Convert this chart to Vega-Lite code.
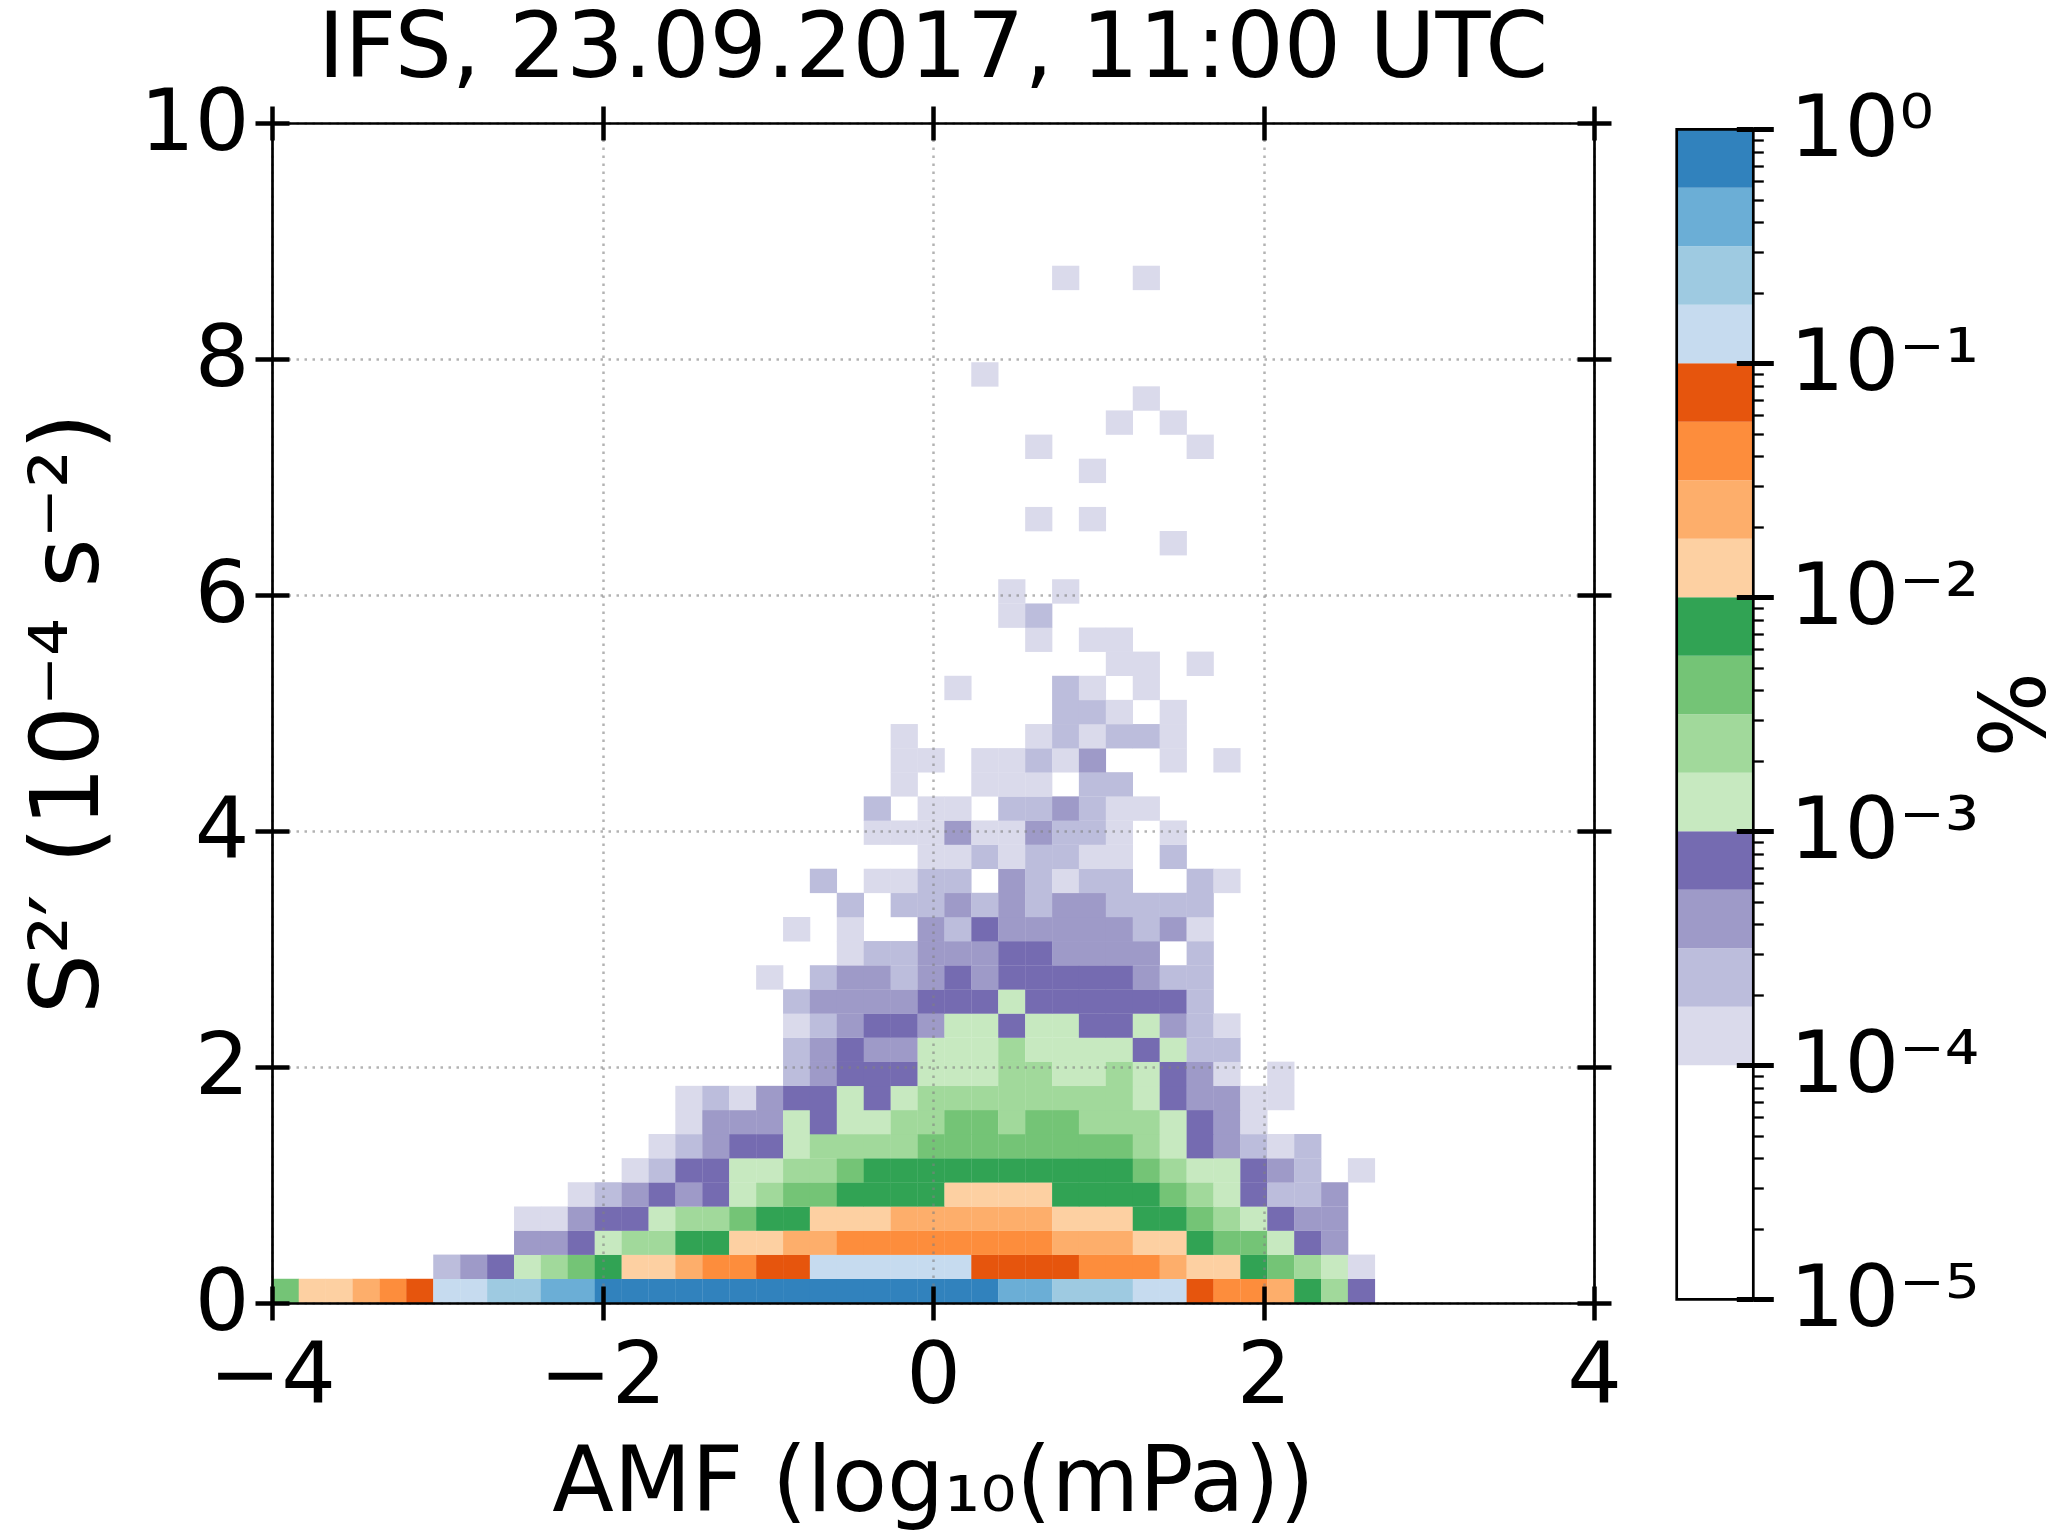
{
"$schema": "https://vega.github.io/schema/vega-lite/v6.json",
"width": 1322, "height": 1180,
"autosize": {"type": "none"},
"padding": {"left": 272, "top": 123, "right": 473, "bottom": 229},
"background": "white",
"title": {"text": "IFS, 23.09.2017, 11:00 UTC", "fontSize": 90, "font": "DejaVu Sans", "fontWeight": "normal", "color": "black", "offset": -16, "anchor": "middle"},
"config": {"view": {"stroke": null}, "font": "DejaVu Sans",
  "axis": {"labelFont": "DejaVu Sans", "titleFont": "DejaVu Sans", "labelColor": "black", "titleColor": "black", "tickColor": "black", "domainColor": "black", "titleFontWeight": "normal", "labelFontSize": 86, "titleFontSize": 90, "tickWidth": 4.5, "domainWidth": 2.7, "grid": false, "labelFlush": false, "labelOverlap": false, "labelLimit": 0, "tickCap": "butt"}},
"resolve": {"scale": {"x": "independent", "y": "independent"}, "axis": {"x": "independent", "y": "independent"}},
"datasets": {
"cells": [
{"x":-3.919,"y":0.102,"v":0.0042},{"x":-3.756,"y":0.102,"v":0.013},{"x":-3.593,"y":0.102,"v":0.013},{"x":-3.43,"y":0.102,"v":0.024},{"x":-3.267,"y":0.102,"v":0.042},{"x":-3.105,"y":0.102,"v":0.075},{"x":-2.942,"y":0.102,"v":0.13},{"x":-2.779,"y":0.102,"v":0.13},{"x":-2.616,"y":0.102,"v":0.24},{"x":-2.453,"y":0.102,"v":0.24},{"x":-2.291,"y":0.102,"v":0.42},{"x":-2.128,"y":0.102,"v":0.42},
{"x":-1.965,"y":0.102,"v":0.75},{"x":-1.802,"y":0.102,"v":0.75},{"x":-1.639,"y":0.102,"v":0.75},{"x":-1.477,"y":0.102,"v":0.75},{"x":-1.314,"y":0.102,"v":0.75},{"x":-1.151,"y":0.102,"v":0.75},{"x":-0.988,"y":0.102,"v":0.75},{"x":-0.825,"y":0.102,"v":0.75},{"x":-0.663,"y":0.102,"v":0.75},{"x":-0.5,"y":0.102,"v":0.75},{"x":-0.337,"y":0.102,"v":0.75},{"x":-0.174,"y":0.102,"v":0.75},{"x":-0.011,"y":0.102,"v":0.75},{"x":0.151,"y":0.102,"v":0.75},{"x":0.314,"y":0.102,"v":0.75},
{"x":0.477,"y":0.102,"v":0.42},{"x":0.64,"y":0.102,"v":0.42},{"x":0.803,"y":0.102,"v":0.24},{"x":0.965,"y":0.102,"v":0.24},{"x":1.128,"y":0.102,"v":0.24},{"x":1.291,"y":0.102,"v":0.13},{"x":1.454,"y":0.102,"v":0.13},{"x":1.617,"y":0.102,"v":0.075},{"x":1.779,"y":0.102,"v":0.042},{"x":1.942,"y":0.102,"v":0.042},{"x":2.105,"y":0.102,"v":0.024},{"x":2.268,"y":0.102,"v":0.0075},{"x":2.431,"y":0.102,"v":0.0024},{"x":2.593,"y":0.102,"v":0.00075},

{"x":-2.942,"y":0.307,"v":0.00024},{"x":-2.779,"y":0.307,"v":0.00042},{"x":-2.616,"y":0.307,"v":0.00075},{"x":-2.453,"y":0.307,"v":0.0013},{"x":-2.291,"y":0.307,"v":0.0024},{"x":-2.128,"y":0.307,"v":0.0042},{"x":-1.965,"y":0.307,"v":0.0075},{"x":-1.802,"y":0.307,"v":0.013},{"x":-1.639,"y":0.307,"v":0.013},{"x":-1.477,"y":0.307,"v":0.024},{"x":-1.314,"y":0.307,"v":0.042},{"x":-1.151,"y":0.307,"v":0.042},{"x":-0.988,"y":0.307,"v":0.075},{"x":-0.825,"y":0.307,"v":0.075},
{"x":-0.663,"y":0.307,"v":0.13},{"x":-0.5,"y":0.307,"v":0.13},{"x":-0.337,"y":0.307,"v":0.13},{"x":-0.174,"y":0.307,"v":0.13},{"x":-0.011,"y":0.307,"v":0.13},{"x":0.151,"y":0.307,"v":0.13},{"x":0.314,"y":0.307,"v":0.075},{"x":0.477,"y":0.307,"v":0.075},{"x":0.64,"y":0.307,"v":0.075},{"x":0.803,"y":0.307,"v":0.075},{"x":0.965,"y":0.307,"v":0.042},{"x":1.128,"y":0.307,"v":0.042},{"x":1.291,"y":0.307,"v":0.042},{"x":1.454,"y":0.307,"v":0.024},{"x":1.617,"y":0.307,"v":0.013},{"x":1.779,"y":0.307,"v":0.013},{"x":1.942,"y":0.307,"v":0.0075},{"x":2.105,"y":0.307,"v":0.0042},{"x":2.268,"y":0.307,"v":0.0024},{"x":2.431,"y":0.307,"v":0.0013},{"x":2.593,"y":0.307,"v":0.00013},

{"x":-2.453,"y":0.511,"v":0.00042},{"x":-2.291,"y":0.511,"v":0.00042},{"x":-2.128,"y":0.511,"v":0.00075},{"x":-1.965,"y":0.511,"v":0.0013},{"x":-1.802,"y":0.511,"v":0.0024},{"x":-1.639,"y":0.511,"v":0.0024},{"x":-1.477,"y":0.511,"v":0.0075},{"x":-1.314,"y":0.511,"v":0.0075},{"x":-1.151,"y":0.511,"v":0.013},{"x":-0.988,"y":0.511,"v":0.013},{"x":-0.825,"y":0.511,"v":0.024},{"x":-0.663,"y":0.511,"v":0.024},
{"x":-0.5,"y":0.511,"v":0.042},{"x":-0.337,"y":0.511,"v":0.042},{"x":-0.174,"y":0.511,"v":0.042},{"x":-0.011,"y":0.511,"v":0.042},{"x":0.151,"y":0.511,"v":0.042},{"x":0.314,"y":0.511,"v":0.042},{"x":0.477,"y":0.511,"v":0.042},{"x":0.64,"y":0.511,"v":0.042},{"x":0.803,"y":0.511,"v":0.024},{"x":0.965,"y":0.511,"v":0.024},{"x":1.128,"y":0.511,"v":0.024},{"x":1.291,"y":0.511,"v":0.013},{"x":1.454,"y":0.511,"v":0.013},{"x":1.617,"y":0.511,"v":0.0075},{"x":1.779,"y":0.511,"v":0.0042},{"x":1.942,"y":0.511,"v":0.0042},{"x":2.105,"y":0.511,"v":0.0013},{"x":2.268,"y":0.511,"v":0.00075},{"x":2.431,"y":0.511,"v":0.00042},

{"x":-2.453,"y":0.715,"v":0.00013},{"x":-2.291,"y":0.715,"v":0.00013},{"x":-2.128,"y":0.715,"v":0.00042},{"x":-1.965,"y":0.715,"v":0.00075},{"x":-1.802,"y":0.715,"v":0.00075},{"x":-1.639,"y":0.715,"v":0.0013},{"x":-1.477,"y":0.715,"v":0.0024},{"x":-1.314,"y":0.715,"v":0.0024},{"x":-1.151,"y":0.715,"v":0.0042},{"x":-0.988,"y":0.715,"v":0.0075},{"x":-0.825,"y":0.715,"v":0.0075},{"x":-0.663,"y":0.715,"v":0.013},{"x":-0.5,"y":0.715,"v":0.013},{"x":-0.337,"y":0.715,"v":0.013},
{"x":-0.174,"y":0.715,"v":0.024},{"x":-0.011,"y":0.715,"v":0.024},{"x":0.151,"y":0.715,"v":0.024},{"x":0.314,"y":0.715,"v":0.024},{"x":0.477,"y":0.715,"v":0.024},{"x":0.64,"y":0.715,"v":0.024},{"x":0.803,"y":0.715,"v":0.013},{"x":0.965,"y":0.715,"v":0.013},{"x":1.128,"y":0.715,"v":0.013},{"x":1.291,"y":0.715,"v":0.0075},{"x":1.454,"y":0.715,"v":0.0075},{"x":1.617,"y":0.715,"v":0.0042},{"x":1.779,"y":0.715,"v":0.0024},{"x":1.942,"y":0.715,"v":0.0013},{"x":2.105,"y":0.715,"v":0.00075},{"x":2.268,"y":0.715,"v":0.00042},{"x":2.431,"y":0.715,"v":0.00042},

{"x":-2.128,"y":0.92,"v":0.00013},{"x":-1.965,"y":0.92,"v":0.00024},{"x":-1.802,"y":0.92,"v":0.00042},{"x":-1.639,"y":0.92,"v":0.00075},{"x":-1.477,"y":0.92,"v":0.00042},{"x":-1.314,"y":0.92,"v":0.00075},{"x":-1.151,"y":0.92,"v":0.0013},{"x":-0.988,"y":0.92,"v":0.0024},{"x":-0.825,"y":0.92,"v":0.0042},{"x":-0.663,"y":0.92,"v":0.0042},{"x":-0.5,"y":0.92,"v":0.0075},{"x":-0.337,"y":0.92,"v":0.0075},{"x":-0.174,"y":0.92,"v":0.0075},{"x":-0.011,"y":0.92,"v":0.0075},
{"x":0.151,"y":0.92,"v":0.013},{"x":0.314,"y":0.92,"v":0.013},{"x":0.477,"y":0.92,"v":0.013},{"x":0.64,"y":0.92,"v":0.013},{"x":0.803,"y":0.92,"v":0.0075},{"x":0.965,"y":0.92,"v":0.0075},{"x":1.128,"y":0.92,"v":0.0075},{"x":1.291,"y":0.92,"v":0.0075},{"x":1.454,"y":0.92,"v":0.0042},{"x":1.617,"y":0.92,"v":0.0024},{"x":1.779,"y":0.92,"v":0.0013},{"x":1.942,"y":0.92,"v":0.00075},{"x":2.105,"y":0.92,"v":0.00024},{"x":2.268,"y":0.92,"v":0.00024},{"x":2.431,"y":0.92,"v":0.00042},

{"x":-1.802,"y":1.124,"v":0.00013},{"x":-1.639,"y":1.124,"v":0.00024},{"x":-1.477,"y":1.124,"v":0.00075},{"x":-1.314,"y":1.124,"v":0.00075},{"x":-1.151,"y":1.124,"v":0.0013},{"x":-0.988,"y":1.124,"v":0.0013},{"x":-0.825,"y":1.124,"v":0.0024},{"x":-0.663,"y":1.124,"v":0.0024},{"x":-0.5,"y":1.124,"v":0.0042},
{"x":-0.337,"y":1.124,"v":0.0075},{"x":-0.174,"y":1.124,"v":0.0075},{"x":-0.011,"y":1.124,"v":0.0075},{"x":0.151,"y":1.124,"v":0.0075},{"x":0.314,"y":1.124,"v":0.0075},{"x":0.477,"y":1.124,"v":0.0075},{"x":0.64,"y":1.124,"v":0.0075},{"x":0.803,"y":1.124,"v":0.0075},{"x":0.965,"y":1.124,"v":0.0075},{"x":1.128,"y":1.124,"v":0.0075},
{"x":1.291,"y":1.124,"v":0.0042},{"x":1.454,"y":1.124,"v":0.0024},{"x":1.617,"y":1.124,"v":0.0013},{"x":1.779,"y":1.124,"v":0.0013},{"x":1.942,"y":1.124,"v":0.00075},{"x":2.105,"y":1.124,"v":0.00042},{"x":2.268,"y":1.124,"v":0.00024},{"x":2.593,"y":1.124,"v":0.00013},

{"x":-1.639,"y":1.329,"v":0.00013},{"x":-1.477,"y":1.329,"v":0.00024},{"x":-1.314,"y":1.329,"v":0.00042},{"x":-1.151,"y":1.329,"v":0.00075},{"x":-0.988,"y":1.329,"v":0.00075},{"x":-0.825,"y":1.329,"v":0.0013},{"x":-0.663,"y":1.329,"v":0.0024},{"x":-0.5,"y":1.329,"v":0.0024},{"x":-0.337,"y":1.329,"v":0.0024},{"x":-0.174,"y":1.329,"v":0.0024},
{"x":-0.011,"y":1.329,"v":0.0042},{"x":0.151,"y":1.329,"v":0.0042},{"x":0.314,"y":1.329,"v":0.0042},{"x":0.477,"y":1.329,"v":0.0042},{"x":0.64,"y":1.329,"v":0.0042},{"x":0.803,"y":1.329,"v":0.0042},{"x":0.965,"y":1.329,"v":0.0042},{"x":1.128,"y":1.329,"v":0.0042},
{"x":1.291,"y":1.329,"v":0.0024},{"x":1.454,"y":1.329,"v":0.0013},{"x":1.617,"y":1.329,"v":0.00075},{"x":1.779,"y":1.329,"v":0.00042},{"x":1.942,"y":1.329,"v":0.00024},{"x":2.105,"y":1.329,"v":0.00013},{"x":2.268,"y":1.329,"v":0.00024},

{"x":-1.477,"y":1.533,"v":0.00013},{"x":-1.314,"y":1.533,"v":0.00042},{"x":-1.151,"y":1.533,"v":0.00042},{"x":-0.988,"y":1.533,"v":0.00042},{"x":-0.825,"y":1.533,"v":0.0013},{"x":-0.663,"y":1.533,"v":0.00075},{"x":-0.5,"y":1.533,"v":0.0013},{"x":-0.337,"y":1.533,"v":0.0013},{"x":-0.174,"y":1.533,"v":0.0024},{"x":-0.011,"y":1.533,"v":0.0024},{"x":0.151,"y":1.533,"v":0.0042},{"x":0.314,"y":1.533,"v":0.0042},{"x":0.477,"y":1.533,"v":0.0024},{"x":0.64,"y":1.533,"v":0.0042},{"x":0.803,"y":1.533,"v":0.0042},{"x":0.965,"y":1.533,"v":0.0024},{"x":1.128,"y":1.533,"v":0.0024},{"x":1.291,"y":1.533,"v":0.0024},{"x":1.454,"y":1.533,"v":0.0013},{"x":1.617,"y":1.533,"v":0.00075},{"x":1.779,"y":1.533,"v":0.00042},{"x":1.942,"y":1.533,"v":0.00013},

{"x":-1.477,"y":1.737,"v":0.00013},{"x":-1.314,"y":1.737,"v":0.00024},{"x":-1.151,"y":1.737,"v":0.00013},{"x":-0.988,"y":1.737,"v":0.00042},{"x":-0.825,"y":1.737,"v":0.00075},{"x":-0.663,"y":1.737,"v":0.00075},{"x":-0.5,"y":1.737,"v":0.0013},{"x":-0.337,"y":1.737,"v":0.00075},{"x":-0.174,"y":1.737,"v":0.0013},
{"x":-0.011,"y":1.737,"v":0.0024},{"x":0.151,"y":1.737,"v":0.0024},{"x":0.314,"y":1.737,"v":0.0024},{"x":0.477,"y":1.737,"v":0.0024},{"x":0.64,"y":1.737,"v":0.0024},{"x":0.803,"y":1.737,"v":0.0024},{"x":0.965,"y":1.737,"v":0.0024},{"x":1.128,"y":1.737,"v":0.0024},
{"x":1.291,"y":1.737,"v":0.0013},{"x":1.454,"y":1.737,"v":0.00075},{"x":1.617,"y":1.737,"v":0.00042},{"x":1.779,"y":1.737,"v":0.00042},{"x":1.942,"y":1.737,"v":0.00013},{"x":2.105,"y":1.737,"v":0.00013},

{"x":-0.825,"y":1.942,"v":0.00024},{"x":-0.663,"y":1.942,"v":0.00042},{"x":-0.5,"y":1.942,"v":0.00075},{"x":-0.337,"y":1.942,"v":0.00075},{"x":-0.174,"y":1.942,"v":0.00075},{"x":-0.011,"y":1.942,"v":0.0013},{"x":0.151,"y":1.942,"v":0.0013},{"x":0.314,"y":1.942,"v":0.0013},{"x":0.477,"y":1.942,"v":0.0024},{"x":0.64,"y":1.942,"v":0.0024},{"x":0.803,"y":1.942,"v":0.0013},{"x":0.965,"y":1.942,"v":0.0013},{"x":1.128,"y":1.942,"v":0.0024},{"x":1.291,"y":1.942,"v":0.0013},{"x":1.454,"y":1.942,"v":0.00075},{"x":1.617,"y":1.942,"v":0.00042},{"x":1.779,"y":1.942,"v":0.00013},{"x":2.105,"y":1.942,"v":0.00013},

{"x":-0.825,"y":2.146,"v":0.00024},{"x":-0.663,"y":2.146,"v":0.00042},{"x":-0.5,"y":2.146,"v":0.00075},{"x":-0.337,"y":2.146,"v":0.00042},{"x":-0.174,"y":2.146,"v":0.00042},{"x":-0.011,"y":2.146,"v":0.0013},{"x":0.151,"y":2.146,"v":0.0013},{"x":0.314,"y":2.146,"v":0.0013},{"x":0.477,"y":2.146,"v":0.0024},{"x":0.64,"y":2.146,"v":0.0013},{"x":0.803,"y":2.146,"v":0.0013},{"x":0.965,"y":2.146,"v":0.0013},{"x":1.128,"y":2.146,"v":0.0013},{"x":1.291,"y":2.146,"v":0.00075},{"x":1.454,"y":2.146,"v":0.0013},{"x":1.617,"y":2.146,"v":0.00024},{"x":1.779,"y":2.146,"v":0.00024},

{"x":-0.825,"y":2.351,"v":0.00013},{"x":-0.663,"y":2.351,"v":0.00024},{"x":-0.5,"y":2.351,"v":0.00042},{"x":-0.337,"y":2.351,"v":0.00075},{"x":-0.174,"y":2.351,"v":0.00075},{"x":-0.011,"y":2.351,"v":0.00042},{"x":0.151,"y":2.351,"v":0.0013},{"x":0.314,"y":2.351,"v":0.0013},{"x":0.477,"y":2.351,"v":0.00075},{"x":0.64,"y":2.351,"v":0.0013},{"x":0.803,"y":2.351,"v":0.0013},{"x":0.965,"y":2.351,"v":0.00075},{"x":1.128,"y":2.351,"v":0.00075},{"x":1.291,"y":2.351,"v":0.0013},{"x":1.454,"y":2.351,"v":0.00042},{"x":1.617,"y":2.351,"v":0.00024},{"x":1.779,"y":2.351,"v":0.00013},

{"x":-0.825,"y":2.555,"v":0.00024},{"x":-0.663,"y":2.555,"v":0.00042},{"x":-0.5,"y":2.555,"v":0.00042},{"x":-0.337,"y":2.555,"v":0.00042},{"x":-0.174,"y":2.555,"v":0.00042},{"x":-0.011,"y":2.555,"v":0.00075},{"x":0.151,"y":2.555,"v":0.00075},{"x":0.314,"y":2.555,"v":0.00075},{"x":0.477,"y":2.555,"v":0.0013},{"x":0.64,"y":2.555,"v":0.00075},{"x":0.803,"y":2.555,"v":0.00075},{"x":0.965,"y":2.555,"v":0.00075},{"x":1.128,"y":2.555,"v":0.00075},{"x":1.291,"y":2.555,"v":0.00075},{"x":1.454,"y":2.555,"v":0.00075},{"x":1.617,"y":2.555,"v":0.00024},

{"x":-0.988,"y":2.759,"v":0.00013},{"x":-0.663,"y":2.759,"v":0.00024},{"x":-0.5,"y":2.759,"v":0.00042},{"x":-0.337,"y":2.759,"v":0.00042},{"x":-0.174,"y":2.759,"v":0.00024},{"x":-0.011,"y":2.759,"v":0.00042},{"x":0.151,"y":2.759,"v":0.00075},{"x":0.314,"y":2.759,"v":0.00042},{"x":0.477,"y":2.759,"v":0.00075},{"x":0.64,"y":2.759,"v":0.00075},{"x":0.803,"y":2.759,"v":0.00075},{"x":0.965,"y":2.759,"v":0.00075},{"x":1.128,"y":2.759,"v":0.00075},{"x":1.291,"y":2.759,"v":0.00042},{"x":1.454,"y":2.759,"v":0.00024},{"x":1.617,"y":2.759,"v":0.00024},

{"x":-0.5,"y":2.964,"v":0.00013},{"x":-0.337,"y":2.964,"v":0.00024},{"x":-0.174,"y":2.964,"v":0.00024},{"x":-0.011,"y":2.964,"v":0.00042},{"x":0.151,"y":2.964,"v":0.00042},{"x":0.314,"y":2.964,"v":0.00042},{"x":0.477,"y":2.964,"v":0.00075},{"x":0.64,"y":2.964,"v":0.00075},{"x":0.803,"y":2.964,"v":0.00042},{"x":0.965,"y":2.964,"v":0.00042},{"x":1.128,"y":2.964,"v":0.00042},{"x":1.291,"y":2.964,"v":0.00042},{"x":1.617,"y":2.964,"v":0.00024},

{"x":-0.825,"y":3.168,"v":0.00013},{"x":-0.5,"y":3.168,"v":0.00013},{"x":-0.011,"y":3.168,"v":0.00042},{"x":0.151,"y":3.168,"v":0.00024},{"x":0.314,"y":3.168,"v":0.00075},{"x":0.477,"y":3.168,"v":0.00042},{"x":0.64,"y":3.168,"v":0.00042},{"x":0.803,"y":3.168,"v":0.00042},{"x":0.965,"y":3.168,"v":0.00042},{"x":1.128,"y":3.168,"v":0.00042},{"x":1.291,"y":3.168,"v":0.00024},{"x":1.454,"y":3.168,"v":0.00042},{"x":1.617,"y":3.168,"v":0.00013},

{"x":-0.5,"y":3.373,"v":0.00024},{"x":-0.174,"y":3.373,"v":0.00024},{"x":-0.011,"y":3.373,"v":0.00024},{"x":0.151,"y":3.373,"v":0.00042},{"x":0.314,"y":3.373,"v":0.00024},{"x":0.477,"y":3.373,"v":0.00042},{"x":0.64,"y":3.373,"v":0.00024},{"x":0.803,"y":3.373,"v":0.00042},{"x":0.965,"y":3.373,"v":0.00042},{"x":1.128,"y":3.373,"v":0.00024},{"x":1.291,"y":3.373,"v":0.00024},{"x":1.454,"y":3.373,"v":0.00024},{"x":1.617,"y":3.373,"v":0.00024},

{"x":-0.663,"y":3.577,"v":0.00024},{"x":-0.337,"y":3.577,"v":0.00013},{"x":-0.174,"y":3.577,"v":0.00013},{"x":-0.011,"y":3.577,"v":0.00024},{"x":0.151,"y":3.577,"v":0.00024},{"x":0.477,"y":3.577,"v":0.00042},{"x":0.64,"y":3.577,"v":0.00024},{"x":0.803,"y":3.577,"v":0.00013},{"x":0.965,"y":3.577,"v":0.00024},{"x":1.128,"y":3.577,"v":0.00024},{"x":1.617,"y":3.577,"v":0.00024},{"x":1.779,"y":3.577,"v":0.00013},

{"x":-0.011,"y":3.781,"v":0.00013},{"x":0.151,"y":3.781,"v":0.00013},{"x":0.314,"y":3.781,"v":0.00024},{"x":0.477,"y":3.781,"v":0.00013},{"x":0.64,"y":3.781,"v":0.00024},{"x":0.803,"y":3.781,"v":0.00024},{"x":0.965,"y":3.781,"v":0.00013},{"x":1.128,"y":3.781,"v":0.00013},{"x":1.454,"y":3.781,"v":0.00024},

{"x":-0.337,"y":3.986,"v":0.00013},{"x":-0.174,"y":3.986,"v":0.00013},{"x":-0.011,"y":3.986,"v":0.00013},{"x":0.151,"y":3.986,"v":0.00042},{"x":0.314,"y":3.986,"v":0.00013},{"x":0.477,"y":3.986,"v":0.00013},{"x":0.64,"y":3.986,"v":0.00042},{"x":0.803,"y":3.986,"v":0.00024},{"x":0.965,"y":3.986,"v":0.00024},{"x":1.128,"y":3.986,"v":0.00013},{"x":1.454,"y":3.986,"v":0.00013},

{"x":-0.337,"y":4.19,"v":0.00024},{"x":-0.011,"y":4.19,"v":0.00013},{"x":0.151,"y":4.19,"v":0.00013},{"x":0.477,"y":4.19,"v":0.00024},{"x":0.64,"y":4.19,"v":0.00024},{"x":0.803,"y":4.19,"v":0.00042},{"x":0.965,"y":4.19,"v":0.00024},{"x":1.128,"y":4.19,"v":0.00013},{"x":1.291,"y":4.19,"v":0.00013},

{"x":-0.174,"y":4.395,"v":0.00013},{"x":0.314,"y":4.395,"v":0.00013},{"x":0.477,"y":4.395,"v":0.00013},{"x":0.64,"y":4.395,"v":0.00013},{"x":0.965,"y":4.395,"v":0.00024},{"x":1.128,"y":4.395,"v":0.00024},

{"x":-0.174,"y":4.599,"v":0.00013},{"x":-0.011,"y":4.599,"v":0.00013},{"x":0.314,"y":4.599,"v":0.00013},{"x":0.477,"y":4.599,"v":0.00013},{"x":0.64,"y":4.599,"v":0.00024},{"x":0.803,"y":4.599,"v":0.00013},{"x":0.965,"y":4.599,"v":0.00042},{"x":1.454,"y":4.599,"v":0.00013},{"x":1.779,"y":4.599,"v":0.00013},

{"x":-0.174,"y":4.803,"v":0.00013},{"x":0.64,"y":4.803,"v":0.00013},{"x":0.803,"y":4.803,"v":0.00024},{"x":0.965,"y":4.803,"v":0.00013},{"x":1.128,"y":4.803,"v":0.00024},{"x":1.291,"y":4.803,"v":0.00024},{"x":1.454,"y":4.803,"v":0.00013},

{"x":0.803,"y":5.008,"v":0.00024},{"x":0.965,"y":5.008,"v":0.00024},{"x":1.128,"y":5.008,"v":0.00013},{"x":1.454,"y":5.008,"v":0.00013},
{"x":0.151,"y":5.212,"v":0.00013},{"x":0.803,"y":5.212,"v":0.00024},{"x":0.965,"y":5.212,"v":0.00013},{"x":1.291,"y":5.212,"v":0.00013},
{"x":1.128,"y":5.417,"v":0.00013},{"x":1.291,"y":5.417,"v":0.00013},{"x":1.617,"y":5.417,"v":0.00013},
{"x":0.64,"y":5.621,"v":0.00013},{"x":0.965,"y":5.621,"v":0.00013},{"x":1.128,"y":5.621,"v":0.00013},
{"x":0.477,"y":5.825,"v":0.00013},{"x":0.64,"y":5.825,"v":0.00024},
{"x":0.477,"y":6.03,"v":0.00013},{"x":0.803,"y":6.03,"v":0.00013},
{"x":1.454,"y":6.439,"v":0.00013},
{"x":0.64,"y":6.643,"v":0.00013},{"x":0.965,"y":6.643,"v":0.00013},
{"x":0.965,"y":7.052,"v":0.00013},
{"x":0.64,"y":7.256,"v":0.00013},{"x":1.617,"y":7.256,"v":0.00013},
{"x":1.128,"y":7.461,"v":0.00013},{"x":1.454,"y":7.461,"v":0.00013},
{"x":1.291,"y":7.665,"v":0.00013},
{"x":0.314,"y":7.869,"v":0.00013},
{"x":0.803,"y":8.687,"v":0.00013},{"x":1.291,"y":8.687,"v":0.00013}
],
"bar": [
{"lo":0.0001,"hi":0.0001778,"v":0.00013},{"lo":0.0001778,"hi":0.0003162,"v":0.00024},{"lo":0.0003162,"hi":0.0005623,"v":0.00042},{"lo":0.0005623,"hi":0.001,"v":0.00075},
{"lo":0.001,"hi":0.001778,"v":0.0013},{"lo":0.001778,"hi":0.003162,"v":0.0024},{"lo":0.003162,"hi":0.005623,"v":0.0042},{"lo":0.005623,"hi":0.01,"v":0.0075},
{"lo":0.01,"hi":0.01778,"v":0.013},{"lo":0.01778,"hi":0.03162,"v":0.024},{"lo":0.03162,"hi":0.05623,"v":0.042},{"lo":0.05623,"hi":0.1,"v":0.075},
{"lo":0.1,"hi":0.1778,"v":0.13},{"lo":0.1778,"hi":0.3162,"v":0.24},{"lo":0.3162,"hi":0.5623,"v":0.42},{"lo":0.5623,"hi":1,"v":0.75}
],
"frame": [{"lo":0.00001,"hi":1}],
"dummy": [{"a":0,"b":0}]
},
"layer": [
{"data": {"name": "cells"},
 "mark": {"type": "rect", "width": 27.2, "height": 24.4, "clip": true},
 "encoding": {
  "x": {"field": "x", "type": "quantitative", "scale": {"domain": [-4, 4], "nice": false, "zero": false},
    "axis": {"orient": "bottom", "values": [-4, -2, 0, 2, 4], "format": "d", "labelExpr": "replace(datum.label, '-', '−')", "title": "AMF (log₁₀(mPa))", "tickSize": 17, "labelPadding": 14, "titlePadding": 20, "grid": true, "gridColor": "#808080", "gridOpacity": 0.6, "gridDash": [2.5, 5.5], "gridWidth": 2.5, "zindex": 1}},
  "y": {"field": "y", "type": "quantitative", "scale": {"domain": [0, 10], "nice": false, "zero": false},
    "axis": {"orient": "left", "values": [0, 2, 4, 6, 8, 10], "format": "d", "title": "S²′ (10⁻⁴ s⁻²)", "titleFontSize": 95, "tickSize": 17, "labelPadding": 6, "titlePadding": 22, "grid": true, "gridColor": "#808080", "gridOpacity": 0.6, "gridDash": [2.5, 5.5], "gridWidth": 2.5, "zindex": 1}},
  "color": {"field": "v", "type": "quantitative",
    "scale": {"type": "threshold", "domain": [0.0001778, 0.0003162, 0.0005623, 0.001, 0.001778, 0.003162, 0.005623, 0.01, 0.01778, 0.03162, 0.05623, 0.1, 0.1778, 0.3162, 0.5623],
      "range": ["#dadaeb", "#bcbddc", "#9e9ac8", "#756bb1", "#c7e9c0", "#a1d99b", "#74c476", "#31a354", "#fdd0a2", "#fdae6b", "#fd8d3c", "#e6550d", "#c6dbef", "#9ecae1", "#6baed6", "#3182bd"]},
    "legend": null}
 }},
{"data": {"name": "dummy"},
 "mark": {"type": "point", "opacity": 0},
 "encoding": {
  "x": {"field": "a", "type": "quantitative", "scale": {"domain": [-4, 4], "nice": false, "zero": false},
    "axis": {"orient": "top", "values": [-4, -2, 0, 2, 4], "labels": false, "tickSize": 17, "title": null, "zindex": 1}},
  "y": {"field": "b", "type": "quantitative", "scale": {"domain": [0, 10], "nice": false, "zero": false},
    "axis": {"orient": "right", "values": [0, 2, 4, 6, 8, 10], "labels": false, "tickSize": 17, "title": null, "zindex": 1}}
 }},
{"data": {"name": "dummy"},
 "mark": {"type": "point", "opacity": 0},
 "encoding": {
  "x": {"field": "a", "type": "quantitative", "scale": {"domain": [-4, 4], "nice": false, "zero": false},
    "axis": {"orient": "bottom", "values": [-4, -2, 0, 2, 4], "labels": false, "domain": false, "tickSize": -17, "title": null, "zindex": 1}},
  "y": {"field": "b", "type": "quantitative", "scale": {"domain": [0, 10], "nice": false, "zero": false},
    "axis": {"orient": "left", "values": [0, 2, 4, 6, 8, 10], "labels": false, "domain": false, "tickSize": -17, "title": null, "zindex": 1}}
 }},
{"data": {"name": "dummy"},
 "mark": {"type": "point", "opacity": 0},
 "encoding": {
  "x": {"field": "a", "type": "quantitative", "scale": {"domain": [-4, 4], "nice": false, "zero": false},
    "axis": {"orient": "top", "values": [-4, -2, 0, 2, 4], "labels": false, "domain": false, "tickSize": -17, "title": null, "zindex": 1}},
  "y": {"field": "b", "type": "quantitative", "scale": {"domain": [0, 10], "nice": false, "zero": false},
    "axis": {"orient": "right", "values": [0, 2, 4, 6, 8, 10], "labels": false, "domain": false, "tickSize": -17, "title": null, "zindex": 1}}
 }},
{"data": {"name": "bar"},
 "mark": {"type": "rect"},
 "encoding": {
  "x": {"datum": 0, "type": "quantitative", "scale": {"domain": [0, 1], "range": [1404.7, 1481.3], "nice": false, "zero": false}, "axis": null},
  "x2": {"datum": 1},
  "y": {"field": "lo", "type": "quantitative", "scale": {"type": "log", "domain": [0.00001, 1], "range": [1176.3, 6.3], "nice": false},
    "axis": {"orient": "right", "offset": 159.3, "values": [0.00001, 0.0001, 0.001, 0.01, 0.1, 1], "labelExpr": "datum.value > 0.5 ? '10⁰' : datum.value > 0.05 ? '10⁻¹' : datum.value > 0.005 ? '10⁻²' : datum.value > 0.0005 ? '10⁻³' : datum.value > 0.00005 ? '10⁻⁴' : '10⁻⁵'", "labelLimit": 0, "tickSize": 20, "tickWidth": 5, "domain": false, "labelPadding": 16, "title": "%", "titleAngle": 270, "titlePadding": 110, "zindex": 1}},
  "y2": {"field": "hi"},
  "color": {"field": "v", "type": "quantitative",
    "scale": {"type": "threshold", "domain": [0.0001778, 0.0003162, 0.0005623, 0.001, 0.001778, 0.003162, 0.005623, 0.01, 0.01778, 0.03162, 0.05623, 0.1, 0.1778, 0.3162, 0.5623],
      "range": ["#dadaeb", "#bcbddc", "#9e9ac8", "#756bb1", "#c7e9c0", "#a1d99b", "#74c476", "#31a354", "#fdd0a2", "#fdae6b", "#fd8d3c", "#e6550d", "#c6dbef", "#9ecae1", "#6baed6", "#3182bd"]},
    "legend": null}
 }},
{"data": {"name": "frame"},
 "mark": {"type": "rect", "fill": "white", "fillOpacity": 0, "stroke": "black", "strokeWidth": 2.7},
 "encoding": {
  "x": {"datum": 0, "type": "quantitative", "scale": {"domain": [0, 1], "range": [1404.7, 1481.3], "nice": false, "zero": false}, "axis": null},
  "x2": {"datum": 1},
  "y": {"field": "lo", "type": "quantitative", "scale": {"type": "log", "domain": [0.00001, 1], "range": [1176.3, 6.3], "nice": false},
    "axis": {"orient": "right", "offset": 159.3, "values": [0.00001, 0.0001, 0.001, 0.01, 0.1, 1], "labels": false, "tickSize": -17, "tickWidth": 5, "domain": false, "title": null, "zindex": 1}},
  "y2": {"field": "hi"}
 }},
{"data": {"name": "frame"},
 "mark": {"type": "rect", "opacity": 0},
 "encoding": {
  "x": {"datum": 0, "type": "quantitative", "scale": {"domain": [0, 1], "range": [1404.7, 1481.3], "nice": false, "zero": false}, "axis": null},
  "x2": {"datum": 1},
  "y": {"field": "lo", "type": "quantitative", "scale": {"type": "log", "domain": [0.00001, 1], "range": [1176.3, 6.3], "nice": false},
    "axis": {"orient": "right", "offset": 159.3, "values": [0.00002, 0.00003, 0.00004, 0.00005, 0.00006, 0.00007, 0.00008, 0.00009, 0.0002, 0.0003, 0.0004, 0.0005, 0.0006, 0.0007, 0.0008, 0.0009, 0.002, 0.003, 0.004, 0.005, 0.006, 0.007, 0.008, 0.009, 0.02, 0.03, 0.04, 0.05, 0.06, 0.07, 0.08, 0.09, 0.2, 0.3, 0.4, 0.5, 0.6, 0.7, 0.8, 0.9], "labels": false, "tickSize": 10, "tickWidth": 2.3, "domain": false, "title": null, "zindex": 1}},
  "y2": {"field": "hi"}
 }}
]
}
